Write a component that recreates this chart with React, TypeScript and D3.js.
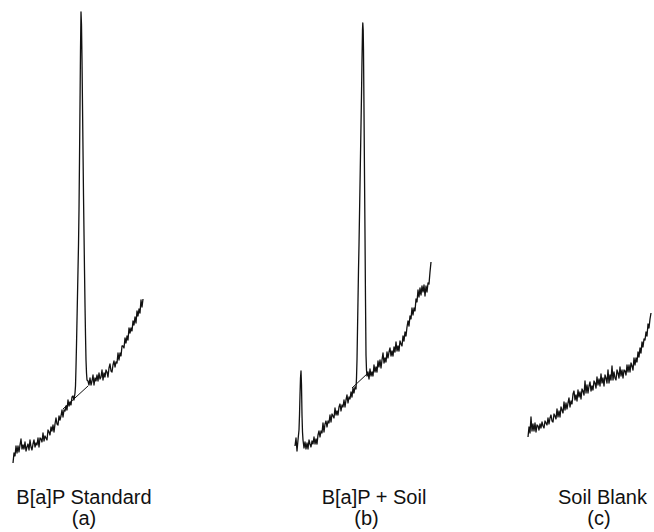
import React from "react";
import * as d3 from "d3";

// Signal intensity (arbitrary units) sampled along retention time (arbitrary units)
// Panel (a): B[a]P Standard
const aBefore = [7,17,14,24,17,24,18,25,31,21, 25,21,28,19,23,26,20,30,23,20, 26,30,23,27,25,32,23,32,31,28,
  37,29,34,32,30,40,38,35,43,39, 45,38,46,52,46,45,54,50,54,60, 53,60,59,64,60,70,64,68,65,73, 74,70,77];
const aPeak: [number, number][] = [
  [62.5,84],[63,103],[63.5,125],[64,150],[64.5,175],[65,200],[65.5,225],[66,260],[66.5,310],[67,365],[67.5,420],
  [68,458],[68.5,445],[69,410],[69.5,365],[70,320],[70.5,275],[71,237],[71.5,200],[72,165],[72.5,135],[73,110],
  [73.5,97],[74,90]];
const aAfterStart = 75;
const aAfter = [89,85,92,85,89,95,85,92,89,95, 89,97,91,93,100,90,97,93,100,98, 93,102,106,99,98,105,109,103,108,107,
  117,110,117,114,124,124,122,132,127,134, 130,142,137,142,139,149,145,153,147,159, 154,161,157,170,163,171];
const aBaseline: [number, number][] = [[50,61],[75,84]];

// Panel (b): B[a]P + Soil
const bBefore = [24,32,19,30];
const bSmallPeak: [number, number][] = [[4,40],[4.5,55],[5,75],[5.5,92],[6,99],[6.5,85],[7,55],[7.5,38],[8,30]];
const bMidStart = 9;
const bMid = [22,28,21,27,21,30,26,23,29,26, 33,26,31,26,35,39,33,39,37,47, 38,46,49,43,49,47,55,48,56,54,
  52,62,55,59,55,63,66,59,65,63, 70,63,70,75,67,73,71,78,73,82, 77,83,81];
const bPeak: [number, number][] = [
  [61.5,92],[62,110],[62.5,140],[63,170],[63.5,200],[64,225],[64.5,255],[65,285],[65.5,315],[66,345],[66.5,375],
  [67,410],[67.5,440],[67.8,447],[68.2,440],[68.5,420],[69,360],[69.5,295],[70,235],[70.5,170],[71,115],
  [71.5,100],[72,94]];
const bAfterStart = 73;
const bAfter = [98,91,101,94,98,94,105,98,103,98, 109,103,110,102,110,117,107,112,108,118, 112,118,122,114,119,114,123,118,128,119,
  124,119,129,126,124,134,129,138,134,143, 149,144,154,151,162,155,162,159,171,168, 180,173,182,175,184,178,185,174,184,178,
  187,186,198,208];
const bBaseline: [number, number][] = [[57,82],[73,97]];

// Panel (c): Soil Blank
const cValues = [33,43,37,53,39,46,39,47,38,45, 44,40,46,42,48,44,42,49,47,45, 52,46,52,55,49,48,56,54,51,61,
  53,59,53,63,60,57,68,60,67,61, 67,72,63,69,66,76,79,70,75,69, 80,73,78,71,81,79,75,89,77,85,
  77,84,88,79,84,80,89,87,82,93, 85,91,84,96,87,92,84,95,92,87, 100,87,95,90,104,90,98,92,90,100,
  97,92,103,94,100,92,100,99,95,105, 98,105,98,107,104,100,112,105,112,108, 118,113,122,117,128,123,131,130,138,134,
  146,142,151,157];

const labelsTop = ["B[a]P Standard", "B[a]P + Soil", "Soil Blank"];
const labelsBottom = ["(a)", "(b)", "(c)"];

const W = 654, H = 532;

export default function App() {
  const y = d3.scaleLinear().domain([0, 460]).range([470, 10]);

  const traceA: [number, number][] = [
    ...aBefore.map((v, i) => [i, v] as [number, number]),
    ...aPeak,
    ...aAfter.map((v, i) => [aAfterStart + i, v] as [number, number]),
  ];
  const traceB: [number, number][] = [
    ...bBefore.map((v, i) => [i, v] as [number, number]),
    ...bSmallPeak,
    ...bMid.map((v, i) => [bMidStart + i, v] as [number, number]),
    ...bPeak,
    ...bAfter.map((v, i) => [bAfterStart + i, v] as [number, number]),
  ];
  const traceC: [number, number][] = cValues.map((v, i) => [i, v] as [number, number]);

  const panels = [
    { x: d3.scaleLinear().domain([0, 130]).range([13, 143]), trace: traceA, base: aBaseline, cx1: 84, cx2: 84 },
    { x: d3.scaleLinear().domain([0, 136]).range([295, 431]), trace: traceB, base: bBaseline, cx1: 374, cx2: 366.5 },
    { x: d3.scaleLinear().domain([0, 123]).range([528, 651]), trace: traceC, base: null as null | [number, number][], cx1: 602.5, cx2: 599 },
  ];

  return (
    <svg width={W} height={H} style={{ position: "absolute", left: 0, top: 0, background: "#fff" }}>
      {panels.map((p, i) => {
        const line = d3.line<[number, number]>().x((d) => p.x(d[0])).y((d) => y(d[1]));
        return (
          <g key={i}>
            {p.base && <path d={line(p.base) || ""} fill="none" stroke="#111" strokeWidth={1} />}
            <path d={line(p.trace) || ""} fill="none" stroke="#111" strokeWidth={1.3} strokeLinejoin="round" />
            <text x={p.cx1} y={503.5} textAnchor="middle" fontFamily="'Liberation Sans', Arial, sans-serif" fontSize={20} fill="#111">
              {labelsTop[i]}
            </text>
            <text x={p.cx2} y={525} textAnchor="middle" fontFamily="'Liberation Sans', Arial, sans-serif" fontSize={20} fill="#111">
              {labelsBottom[i]}
            </text>
          </g>
        );
      })}
    </svg>
  );
}
